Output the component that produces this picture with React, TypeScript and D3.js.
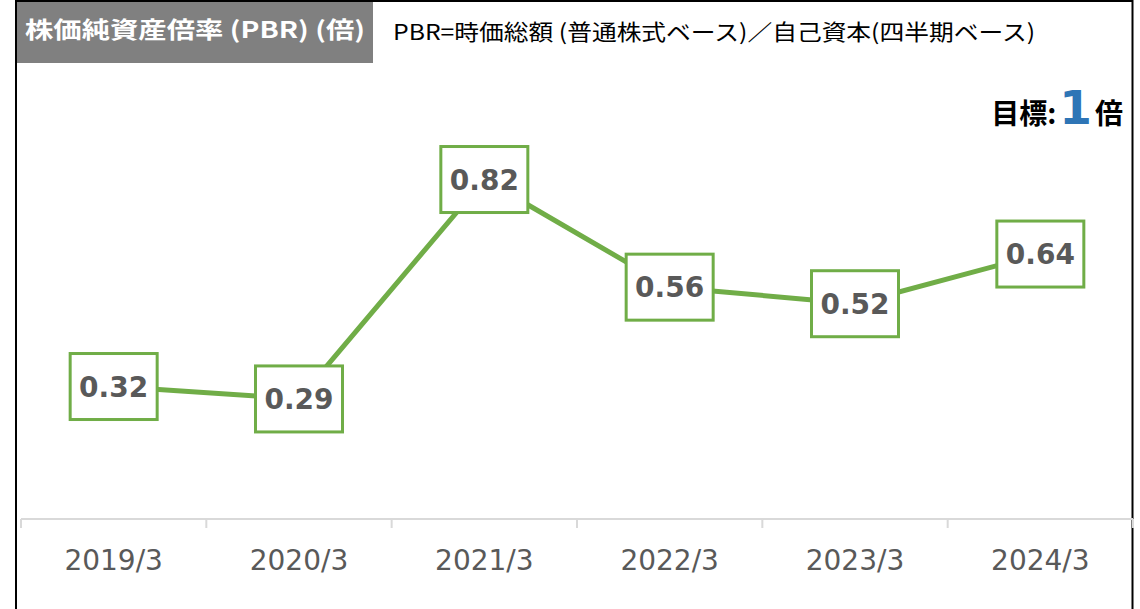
import React from "react";
import * as d3 from "d3";

const categories: string[] = ["2019/3", "2020/3", "2021/3", "2022/3", "2023/3", "2024/3"];
const pbrValues: number[] = [0.32, 0.29, 0.82, 0.56, 0.52, 0.64];
const titleText = "株価純資産倍率 (PBR) (倍)";
const subtitleText = "PBR=時価総額 (普通株式ベース)／自己資本(四半期ベース)";

const W = 1140;
const H = 609;
const GREEN = "#70AD47";
const TEXT_GRAY = "#595959";

export default function App() {
  const x = d3.scaleBand<string>().domain(categories).range([21, 1133]);
  const y = d3.scaleLinear().domain([0, 1]).range([519, 105]);
  const cx = (c: string) => (x(c) as number) + x.bandwidth() / 2;

  const line = d3
    .line<number>()
    .x((_, i) => cx(categories[i]))
    .y((d) => y(d));

  const boxW = 87;
  const boxH = 66;
  const boundaries = categories.map((c) => x(c) as number).concat([x.range()[1]]);

  return (
    <svg
      width={W}
      height={H}
      style={{ position: "absolute", left: 0, top: 0, background: "#fff" }}
    >
      {/* frame */}
      <line x1={16} y1={0} x2={16} y2={H} stroke="#000" strokeWidth={2} />
      <line x1={1132.5} y1={0} x2={1132.5} y2={H} stroke="#000" strokeWidth={2} />
      <line x1={16} y1={1} x2={1133} y2={1} stroke="#000" strokeWidth={2} />

      {/* title box */}
      <rect x={17} y={2} width={356} height={61} fill="#808080" />
      <text
        x={25}
        y={38}
        fill="#fff"
        fontFamily="'Noto Sans CJK JP', 'Noto Sans', sans-serif"
        fontWeight="bold"
        fontSize={23}
        textLength={340}
        lengthAdjust="spacingAndGlyphs"
      >
        {titleText}
      </text>
      <text
        x={393}
        y={40}
        fill="#000"
        fontFamily="'Noto Sans CJK JP', 'Noto Sans', sans-serif"
        fontSize={22}
        textLength={642}
        lengthAdjust="spacingAndGlyphs"
      >
        {subtitleText}
      </text>

      {/* goal */}
      <text
        x={1123}
        y={124}
        textAnchor="end"
        fill="#000"
        fontFamily="'Noto Sans CJK JP', sans-serif"
        fontWeight="bold"
        fontSize={28}
      >
        <tspan>目標:</tspan>
        <tspan
          fill="#2E75B6"
          fontFamily="'DejaVu Sans', Verdana, sans-serif"
          fontSize={47}
          dx={3}
        >
          1
        </tspan>
        <tspan dx={3}>倍</tspan>
      </text>

      {/* axis */}
      <line x1={x.range()[0]} y1={519} x2={x.range()[1]} y2={519} stroke="#D9D9D9" strokeWidth={2} />
      {boundaries.map((b, i) => (
        <line key={"t" + i} x1={b} y1={519} x2={b} y2={528} stroke="#D9D9D9" strokeWidth={2} />
      ))}
      {categories.map((c) => (
        <text
          key={c}
          x={cx(c)}
          y={570}
          textAnchor="middle"
          fill={TEXT_GRAY}
          fontFamily="'DejaVu Sans', Verdana, sans-serif"
          fontSize={28}
        >
          {c}
        </text>
      ))}

      {/* line */}
      <path d={line(pbrValues) || ""} fill="none" stroke={GREEN} strokeWidth={5} strokeLinejoin="round" />

      {/* labels */}
      {pbrValues.map((v, i) => {
        const px = cx(categories[i]);
        const py = y(v);
        return (
          <g key={"l" + i}>
            <rect
              x={px - boxW / 2}
              y={py - boxH / 2}
              width={boxW}
              height={boxH}
              fill="#fff"
              stroke={GREEN}
              strokeWidth={3}
            />
            <text
              x={px}
              y={py + 10}
              textAnchor="middle"
              fill={TEXT_GRAY}
              fontFamily="'DejaVu Sans', Verdana, sans-serif"
              fontWeight="bold"
              fontSize={28}
            >
              {v.toFixed(2)}
            </text>
          </g>
        );
      })}
    </svg>
  );
}
